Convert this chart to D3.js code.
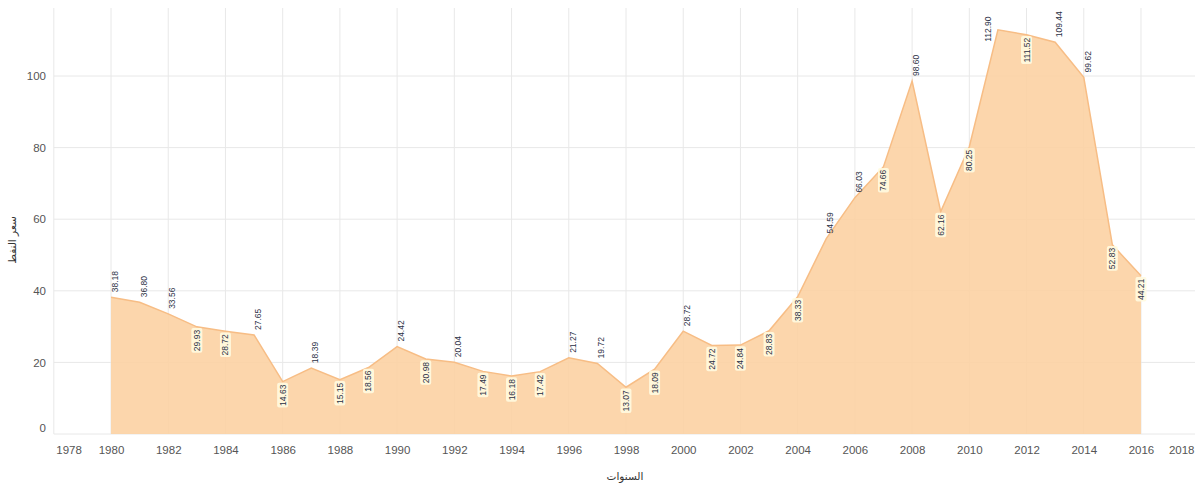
<!DOCTYPE html>
<html><head><meta charset="utf-8">
<script src="https://cdn.jsdelivr.net/npm/d3@7/dist/d3.min.js"></script>
<style>body{margin:0;background:#fff}svg{display:block}</style>
</head><body>
<svg id="c" width="1195" height="486"></svg>
<script>
const years = d3.range(1980, 2017);
const prices = [38.18,36.80,33.56,29.93,28.72,27.65,14.63,18.39,15.15,18.56,24.42,20.98,20.04,17.49,16.18,17.42,21.27,19.72,13.07,18.09,28.72,24.72,24.84,28.83,38.33,54.59,66.03,74.66,98.60,62.16,80.25,112.90,111.52,109.44,99.62,52.83,44.21];
// label side: 1 above the point, -1 below
const labelSide = [1,1,1,-1,-1,1,-1,1,-1,-1,1,-1,1,-1,-1,-1,1,1,-1,-1,1,-1,-1,-1,-1,1,1,-1,1,-1,-1,1,-1,1,1,-1,-1];
const xTicks = d3.range(1978, 2019, 2);
const yTicks = [0,20,40,60,80,100];
const xTitle = "السنوات";
const yTitle = "سعر النفط";

const data = years.map((y,i)=>({year:y, v:prices[i], side:labelSide[i]}));
const svg = d3.select("#c");
const x = d3.scaleLinear().domain([1978,2018]).range([53.8,1198.2]);
const y = d3.scaleLinear().domain([0,119]).range([434,8]);
const font = "'Liberation Sans', Arial, sans-serif";

// grid
svg.append("g").selectAll("line.h").data(yTicks).join("line")
  .attr("x1",53.8).attr("x2",1195).attr("y1",d=>y(d)).attr("y2",d=>y(d))
  .attr("stroke","#e8e8e8").attr("stroke-width",1);
svg.append("g").selectAll("line.v").data(xTicks).join("line")
  .attr("x1",d=>x(d)).attr("x2",d=>x(d)).attr("y1",8).attr("y2",434)
  .attr("stroke","#e8e8e8").attr("stroke-width",1);

// area
const area = d3.area().x(d=>x(d.year)).y0(y(0)).y1(d=>y(d.v));
svg.append("path").datum(data).attr("d",area).attr("fill","#fcd0a1").attr("fill-opacity",0.88);
const line = d3.line().x(d=>x(d.year)).y(d=>y(d.v));
svg.append("path").datum(data).attr("d",line).attr("fill","none").attr("stroke","#f7bd85").attr("stroke-width",1.5);

// axes
const xa = svg.append("g").attr("transform","translate(0,434)")
  .call(d3.axisBottom(x).tickValues(xTicks).tickFormat(d3.format("d")).tickSize(0).tickPadding(12));
xa.select(".domain").remove();
xa.selectAll("text").attr("font-family",font).attr("font-size",11.5).attr("fill","#555")
  .attr("text-anchor",d=>d===1978?"start":(d===2018?"end":"middle"))
  .attr("x",d=>d===1978?2:(d===2018?1194-x(2018):0));
const ya = svg.append("g").attr("transform","translate(46,0)")
  .call(d3.axisLeft(y).tickValues(yTicks).tickSize(0).tickPadding(0));
ya.select(".domain").remove();
ya.selectAll("text").attr("font-family",font).attr("font-size",11.5).attr("fill","#555")
  .attr("dy",d=>d===0?"-0.25em":"0.32em");

// titles
svg.append("text").attr("x",625).attr("y",480).attr("text-anchor","middle")
  .attr("font-family","'DejaVu Sans', sans-serif").attr("font-size",10.5).attr("fill","#333").text(xTitle);
svg.append("text").attr("transform","translate(16,240) rotate(-90)").attr("text-anchor","middle")
  .attr("font-family","'DejaVu Sans', sans-serif").attr("font-size",10.5).attr("fill","#333").text(yTitle);

// labels
const lg = svg.append("g").selectAll("g").data(data).join("g");
lg.each(function(d){
  const g = d3.select(this);
  const t = g.append("text").attr("font-family",font).attr("font-size",8.5).attr("fill","#2a2f45")
    .attr("text-anchor",d.side>0?"start":"end").attr("dy","0.35em").text(d.v.toFixed(2));
  const b = t.node().getBBox();
  g.insert("rect","text").attr("x",b.x-1.5).attr("y",b.y-0.5).attr("width",b.width+3).attr("height",b.height+1)
    .attr("rx",2).attr("fill","#fffbe0").attr("fill-opacity",d.side>0?0:0.9);
  let px = x(d.year), py = y(d.v);
  if (d.side>0) {
    if (py - 5 - b.width < 4) { px -= 10; py = Math.max(py + 12, b.width + 8); }
    else { px += 4; py -= 5; }
  } else { py += 3; }
  g.attr("transform",`translate(${px},${py}) rotate(-90)`);
});
</script>
</body></html>
